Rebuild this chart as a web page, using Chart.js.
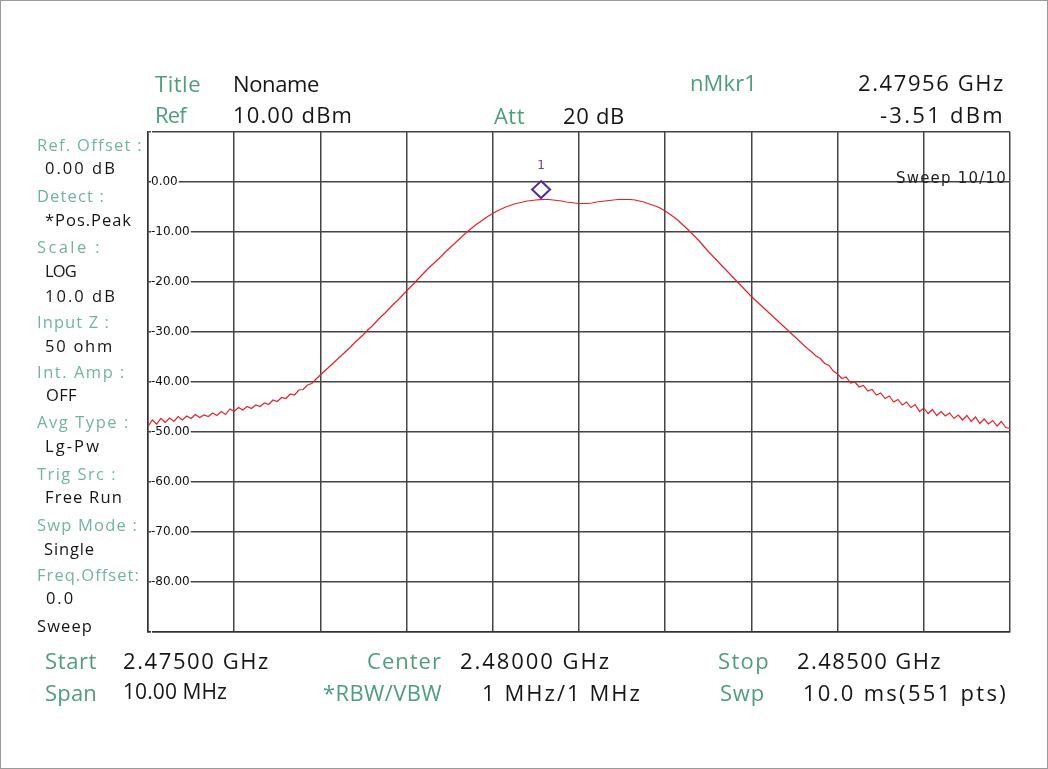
<!DOCTYPE html>
<html>
<head>
<meta charset="utf-8">
<script src="https://cdn.jsdelivr.net/npm/chart.js@4.4.1/dist/chart.umd.min.js"></script>
<style>
  html, body { margin:0; padding:0; background:#fff; }
  body { width:1048px; height:769px; position:relative; overflow:hidden; }
  #frame { position:absolute; left:0; top:0; width:1048px; height:769px; box-sizing:border-box; border:1px solid #9a9a9a; pointer-events:none; }
  canvas { position:absolute; left:0; top:0; }
  .t { position:absolute; white-space:nowrap; line-height:1; }
</style>
</head>
<body>
<canvas id="c" width="1048" height="769"></canvas>
<div id="frame"></div>
<script>
// ---- DATA ----
const sweepStartMHz = 2475;   // Start 2.47500 GHz
const sweepStopMHz = 2485;    // Stop 2.48500 GHz
const yTickValues = [0, -10, -20, -30, -40, -50, -60, -70, -80];
const markerFreqMHz = 2479.56; // nMkr1 2.47956 GHz
const markerLevel = -3.51;     // -3.51 dBm
// trace levels (dBm) at evenly spaced sweep points
const traceLevels = [
  -48.9, -47.6, -48.4, -47.3, -48.1, -47.2, -47.9, -46.9, -47.6, -46.8,
  -47.3, -46.5, -47.1, -46.6, -46.9, -46.2, -46.7, -45.9, -46.5, -45.4,
  -45.9, -45.1, -45.6, -44.9, -45.3, -44.6, -44.9, -44.2, -44.5, -43.6,
  -43.9, -43.1, -43.3, -42.4, -42.6, -41.6, -41.5, -40.6, -40.3, -39.4,
  -38.6, -37.8, -37.0, -36.2, -35.4, -34.6, -33.8, -33.0, -32.1, -31.3,
  -30.5, -29.6, -28.8, -27.9, -27.0, -26.2, -25.3, -24.4, -23.6, -22.7,
  -21.8, -20.9, -20.0, -19.1, -18.2, -17.3, -16.5, -15.7, -14.9, -14.0,
  -13.2, -12.4, -11.6, -10.8, -10.0, -9.3, -8.6, -8.0, -7.4, -6.8,
  -6.3, -5.8, -5.4, -5.0, -4.7, -4.4, -4.2, -4.0, -3.8, -3.7,
  -3.6, -3.51, -3.5, -3.5, -3.6, -3.7, -3.8, -4.0, -4.1, -4.2,
  -4.3, -4.3, -4.3, -4.2, -4.0, -3.9, -3.8, -3.7, -3.6, -3.5,
  -3.5, -3.5, -3.5, -3.6, -3.8, -4.0, -4.3, -4.6, -4.9, -5.3,
  -5.8, -6.4, -7.0, -7.7, -8.5, -9.3, -10.1, -11.0, -11.9, -12.9,
  -13.9, -14.8, -15.7, -16.6, -17.5, -18.4, -19.3, -20.2, -21.1, -22.0,
  -22.9, -23.7, -24.5, -25.3, -26.1, -26.9, -27.7, -28.5, -29.3, -30.1,
  -30.9, -31.7, -32.5, -33.3, -34.0, -34.8, -35.3, -36.3, -36.7, -37.8,
  -38.4, -39.3, -39.0, -40.2, -40.0, -41.0, -40.7, -41.8, -41.5, -42.6,
  -42.2, -43.3, -42.8, -44.0, -43.5, -44.6, -44.0, -45.1, -44.5, -45.9,
  -45.2, -46.3, -45.5, -46.7, -45.9, -46.8, -46.2, -47.3, -46.6, -47.6,
  -46.7, -47.9, -47.0, -48.3, -47.4, -48.4, -47.7, -48.8, -47.9, -49.1,
  -49.3
];

// sweep frequencies: evenly spaced from start to stop
const stepMHz = (sweepStopMHz - sweepStartMHz) / (traceLevels.length - 1);
const tracePoints = traceLevels.map((v, i) => ({ x: sweepStartMHz + i * stepMHz, y: v }));

const markerPlugin = {
  id: 'markerPlugin',
  afterDatasetsDraw(chart) {
    const { ctx, scales: { x, y } } = chart;
    const px = x.getPixelForValue(markerFreqMHz);
    const py = y.getPixelForValue(markerLevel) - 10;
    ctx.save();
    ctx.strokeStyle = '#5a2a94';
    ctx.lineWidth = 2;
    ctx.beginPath();
    ctx.moveTo(px, py - 8.5);
    ctx.lineTo(px + 9, py);
    ctx.lineTo(px, py + 8.5);
    ctx.lineTo(px - 9, py);
    ctx.closePath();
    ctx.stroke();
    ctx.fillStyle = '#6b3aa0';
    ctx.font = '12px "DejaVu Sans"';
    ctx.textAlign = 'center';
    ctx.textBaseline = 'alphabetic';
    ctx.fillText('1', px, py - 21);
    ctx.restore();
  }
};

const gridCol = '#454545';
new Chart(document.getElementById('c'), {
  type: 'line',
  data: {
    datasets: [{
      data: tracePoints,
      borderColor: '#e0232b',
      borderWidth: 1.2,
      pointRadius: 0,
      tension: 0,
      fill: false
    }]
  },
  options: {
    responsive: false,
    animation: false,
    layout: { padding: { left: 142, top: 132, right: 38, bottom: 137 } },
    plugins: { legend: { display: false }, tooltip: { enabled: false } },
    scales: {
      x: {
        type: 'linear',
        min: sweepStartMHz,
        max: sweepStopMHz,
        ticks: { display: false, stepSize: 1 },
        grid: { color: gridCol, lineWidth: 1.5, drawTicks: false },
        border: { color: '#333', width: 1.5 }
      },
      y: {
        type: 'linear',
        min: -90,
        max: 10,
        afterBuildTicks(scale) {
          scale.ticks = [10, ...yTickValues, -90].map(v => ({ value: v }));
        },
        ticks: {
          mirror: true,
          padding: 3,
          color: '#111',
          font: { family: 'DejaVu Sans', size: 12 },
          callback: v => yTickValues.includes(v) ? v.toFixed(2) : '',
          showLabelBackdrop: true,
          backdropColor: '#ffffff',
          backdropPadding: { top: 0, bottom: 0, left: 0, right: 1 }
        },
        grid: { color: gridCol, lineWidth: 1.5, drawTicks: false },
        border: { color: '#333', width: 1.5 }
      }
    }
  },
  plugins: [markerPlugin]
});

// ---- surrounding annotation text (real text) ----
const GREEN = '#4f9d7d';
const LGREEN = '#72b59c';
const BLACK = '#161616';
const texts = [
  // header
  { s: 'Title', x: 155, b: 91, w: 46, size: 22, c: GREEN },
  { s: 'Noname', x: 233, b: 91, w: 86, size: 22, c: BLACK },
  { s: 'nMkr1', x: 690, b: 90, w: 67, size: 22, c: GREEN },
  { s: '2.47956 GHz', x: 858, b: 90, w: 147, size: 22, c: BLACK },
  { s: 'Ref', x: 155, b: 122, w: 31, size: 22, c: GREEN },
  { s: '10.00 dBm', x: 233, b: 122, w: 120, size: 22, c: BLACK },
  { s: 'Att', x: 494, b: 123, w: 31, size: 22, c: GREEN },
  { s: '20 dB', x: 563, b: 123, w: 62, size: 22, c: BLACK },
  { s: '-3.51 dBm', x: 880, b: 122, w: 125, size: 22, c: BLACK },
  // left panel
  { s: 'Ref. Offset :', x: 37, cy: 146, w: 106, size: 16.5, c: LGREEN },
  { s: '0.00 dB', x: 45, cy: 169, w: 72, size: 16.5, c: BLACK },
  { s: 'Detect :', x: 37, cy: 197, w: 68, size: 16.5, c: LGREEN },
  { s: '*Pos.Peak', x: 45, cy: 221, w: 87, size: 16.5, c: BLACK },
  { s: 'Scale :', x: 37, cy: 248, w: 65, size: 16.5, c: LGREEN },
  { s: 'LOG', x: 45, cy: 272, w: 31, size: 16.5, c: BLACK },
  { s: '10.0 dB', x: 45, cy: 297, w: 72, size: 16.5, c: BLACK },
  { s: 'Input Z :', x: 37, cy: 323, w: 73, size: 16.5, c: LGREEN },
  { s: '50 ohm', x: 45, cy: 347, w: 69, size: 16.5, c: BLACK },
  { s: 'Int. Amp :', x: 37, cy: 373, w: 89, size: 16.5, c: LGREEN },
  { s: 'OFF', x: 46, cy: 396, w: 31, size: 16.5, c: BLACK },
  { s: 'Avg Type :', x: 37, cy: 423, w: 93, size: 16.5, c: LGREEN },
  { s: 'Lg-Pw', x: 45, cy: 447, w: 56, size: 16.5, c: BLACK },
  { s: 'Trig Src :', x: 37, cy: 475, w: 80, size: 16.5, c: LGREEN },
  { s: 'Free Run', x: 45, cy: 498, w: 78, size: 16.5, c: BLACK },
  { s: 'Swp Mode :', x: 37, cy: 526, w: 101, size: 16.5, c: LGREEN },
  { s: 'Single', x: 44, cy: 550, w: 51, size: 16.5, c: BLACK },
  { s: 'Freq.Offset:', x: 37, cy: 576, w: 103, size: 16.5, c: LGREEN },
  { s: '0.0', x: 46, cy: 599, w: 29, size: 16.5, c: BLACK },
  { s: 'Sweep', x: 37, cy: 627, w: 56, size: 16.5, c: BLACK },
  // in-plot
  { s: 'Sweep 10/10', x: 896, b: 184, w: 111, size: 15, c: '#222', font: '"DejaVu Sans"', ratio: 0.846 },
  // bottom
  { s: 'Start', x: 45, b: 668, w: 52, size: 22, c: GREEN },
  { s: '2.47500 GHz', x: 123, b: 668, w: 147, size: 22, c: BLACK },
  { s: 'Center', x: 367, b: 668, w: 75, size: 22, c: GREEN },
  { s: '2.48000 GHz', x: 460, b: 668, w: 151, size: 22, c: BLACK },
  { s: 'Stop', x: 718, b: 668, w: 52, size: 22, c: GREEN },
  { s: '2.48500 GHz', x: 797, b: 668, w: 145, size: 22, c: BLACK },
  { s: 'Span', x: 45, b: 700, w: 52, size: 22, c: GREEN },
  { s: '10.00 MHz', x: 123, b: 700, w: 104, size: 21, c: BLACK },
  { s: '*RBW/VBW', x: 323, b: 700, w: 119, size: 22, c: GREEN },
  { s: '1 MHz/1 MHz', x: 482, b: 700, w: 160, size: 22, c: BLACK },
  { s: 'Swp', x: 720, b: 700, w: 45, size: 22, c: GREEN },
  { s: '10.0 ms(551 pts)', x: 803, b: 700, w: 205, size: 22, c: BLACK }
];
texts.forEach(t => {
  const d = document.createElement('div');
  d.className = 't';
  d.textContent = t.s;
  const fam = t.font || '"Open Sans"';
  const ratio = t.ratio || 0.888;
  d.style.fontFamily = fam;
  d.style.fontSize = t.size + 'px';
  d.style.color = t.c;
  d.style.left = t.x + 'px';
  document.body.appendChild(d);
  const nat = d.getBoundingClientRect().width;
  const ls = (t.w - nat) / t.s.length;
  d.style.letterSpacing = ls.toFixed(2) + 'px';
  const base = t.b !== undefined ? t.b : t.cy + t.size * 0.714 / 2;
  d.style.top = (base - t.size * ratio).toFixed(1) + 'px';
});
</script>
</body>
</html>
